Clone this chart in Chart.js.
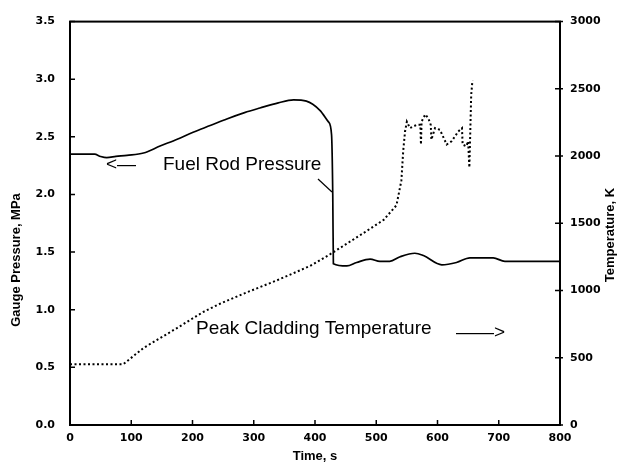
<!DOCTYPE html>
<html>
<head>
<meta charset="utf-8">
<script src="https://cdn.jsdelivr.net/npm/chart.js@4.4.1/dist/chart.umd.min.js"></script>
<style>
  html, body { margin: 0; padding: 0; background: #fff; }
  #wrap { width: 624px; height: 469px; }
</style>
</head>
<body>
<div id="wrap"><canvas id="chart" width="624" height="469"></canvas></div>
<script>
// Data
const pressureTime = [0, 40, 50, 60, 75, 93, 120, 147, 175, 201, 230, 256, 285, 310, 340, 365, 386, 408, 422, 427, 429, 430, 452, 468, 490, 506, 522, 539, 563, 577, 607, 631, 653, 678, 691, 710, 800];
const pressureVals = [2.35, 2.35, 2.33, 2.32, 2.33, 2.34, 2.36, 2.42, 2.48, 2.54, 2.60, 2.655, 2.71, 2.75, 2.795, 2.82, 2.81, 2.73, 2.63, 2.52, 2.0, 1.40, 1.38, 1.41, 1.44, 1.42, 1.42, 1.46, 1.49, 1.47, 1.39, 1.41, 1.45, 1.45, 1.45, 1.42, 1.42];

const tempTime = [0, 87, 120, 147, 174, 218, 245, 283, 337, 392, 424, 479, 512, 533, 541, 544, 547, 550, 555, 566, 572, 573, 574, 580, 585, 589, 590, 596, 604, 615, 623, 634, 640, 641, 647, 650, 652, 653, 655, 657];
const tempVals = [452, 452, 573, 646, 719, 842, 902, 976, 1074, 1183, 1268, 1427, 1525, 1634, 1817, 2037, 2183, 2256, 2208, 2232, 2232, 2086, 2256, 2310, 2281, 2232, 2122, 2208, 2195, 2086, 2110, 2183, 2208, 2086, 2073, 2110, 1915, 2086, 2452, 2562];

const xTicks = [0, 100, 200, 300, 400, 500, 600, 700, 800];
const pressureTicks = [0, 0.5, 1.0, 1.5, 2.0, 2.5, 3.0, 3.5];
const tempTicks = [0, 500, 1000, 1500, 2000, 2500, 3000];

const toPoints = (xs, ys) => xs.map((x, i) => ({ x, y: ys[i] }));

const tickFont = { family: 'DejaVu Sans', size: 11, weight: 'bold' };

// frame, inward ticks, axis titles and annotations
const decor = {
  id: 'decor',
  afterDraw(chart) {
    const { ctx, chartArea: a, scales } = chart;
    ctx.save();
    ctx.strokeStyle = '#000';
    ctx.lineWidth = 2;
    ctx.strokeRect(a.left, a.top, a.right - a.left, a.bottom - a.top);

    ctx.lineWidth = 1.5;
    ctx.beginPath();
    xTicks.forEach(v => {
      const x = scales.x.getPixelForValue(v);
      ctx.moveTo(x, a.bottom); ctx.lineTo(x, a.bottom - 5);
    });
    pressureTicks.forEach(v => {
      const y = scales.y.getPixelForValue(v);
      ctx.moveTo(a.left, y); ctx.lineTo(a.left + 5, y);
    });
    tempTicks.forEach(v => {
      const y = scales.y2.getPixelForValue(v);
      ctx.moveTo(a.right - 5, y); ctx.lineTo(a.right + 3, y);
    });
    ctx.stroke();

    ctx.fillStyle = '#000';
    ctx.textAlign = 'center';
    ctx.textBaseline = 'middle';
    ctx.font = 'bold 13px "Liberation Sans"';
    ctx.fillText('Time, s', (a.left + a.right) / 2, 456);

    ctx.save();
    ctx.translate(16, 260);
    ctx.rotate(-Math.PI / 2);
    ctx.fillText('Gauge Pressure, MPa', 0, 0);
    ctx.restore();

    ctx.save();
    ctx.translate(610, 235);
    ctx.rotate(-Math.PI / 2);
    ctx.fillText('Temperature, K', 0, 0);
    ctx.restore();

    ctx.textAlign = 'left';
    ctx.font = '19px "Liberation Sans"';
    ctx.fillText('<\u2014', 106, 165);
    ctx.fillText('Fuel Rod Pressure', 163, 165);
    ctx.fillText('Peak Cladding Temperature', 196, 329);
    ctx.fillText('\u2014\u2014>', 456, 333);

    ctx.lineWidth = 1.2;
    ctx.beginPath();
    ctx.moveTo(318, 179); ctx.lineTo(332, 192);
    ctx.stroke();
    ctx.restore();
  }
};

new Chart(document.getElementById('chart'), {
  type: 'line',
  data: {
    datasets: [
      {
        label: 'Fuel Rod Pressure',
        data: toPoints(pressureTime, pressureVals),
        yAxisID: 'y',
        borderColor: '#000',
        borderWidth: 1.7,
        pointRadius: 0,
        cubicInterpolationMode: 'monotone'
      },
      {
        label: 'Peak Cladding Temperature',
        data: toPoints(tempTime, tempVals),
        yAxisID: 'y2',
        borderColor: '#000',
        borderWidth: 2,
        borderDash: [2, 2.5],
        pointRadius: 0,
        tension: 0
      }
    ]
  },
  options: {
    responsive: false,
    animation: false,
    layout: { padding: { top: 15, left: 0, right: 0, bottom: 0 } },
    plugins: { legend: { display: false }, tooltip: { enabled: false } },
    scales: {
      x: {
        type: 'linear',
        min: 0, max: 800,
        afterFit: s => { s.height = 44; },
        afterBuildTicks: s => { s.ticks = xTicks.map(v => ({ value: v })); },
        grid: { display: false, drawTicks: false },
        border: { display: false },
        ticks: { color: '#000', font: tickFont, padding: 7, maxRotation: 0, callback: v => String(v) }
      },
      y: {
        position: 'left',
        min: 0, max: 3.5,
        afterFit: s => { s.width = 70; },
        afterBuildTicks: s => { s.ticks = pressureTicks.map(v => ({ value: v })); },
        grid: { display: false, drawTicks: false },
        border: { display: false },
        ticks: { color: '#000', font: tickFont, padding: 15, callback: v => v.toFixed(1) }
      },
      y2: {
        position: 'right',
        min: 0, max: 3000,
        afterFit: s => { s.width = 64; },
        afterBuildTicks: s => { s.ticks = tempTicks.map(v => ({ value: v })); },
        grid: { display: false, drawTicks: false },
        border: { display: false },
        ticks: { color: '#000', font: tickFont, padding: 10, callback: v => String(v) }
      }
    }
  },
  plugins: [decor]
});
</script>
</body>
</html>
